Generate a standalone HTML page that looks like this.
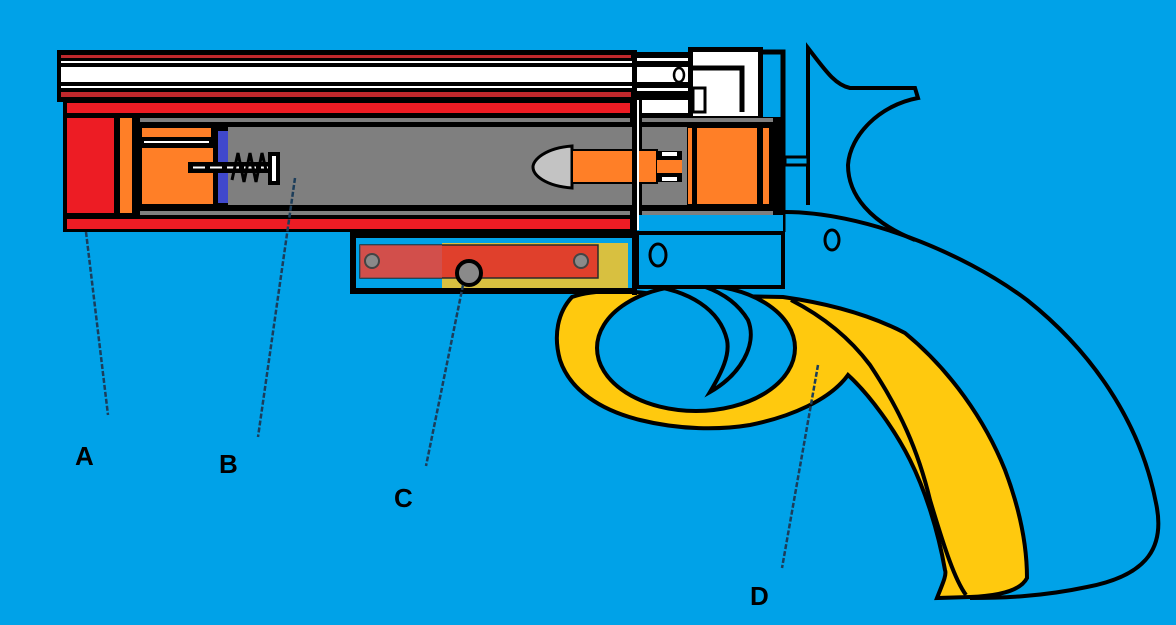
<!DOCTYPE html>
<html><head><meta charset="utf-8"><style>
html,body{margin:0;padding:0;background:#00a2e8;}
svg{display:block}
text{font-family:"Liberation Sans",sans-serif;font-weight:bold;font-size:26px;fill:#000}
</style></head><body>
<svg width="1176" height="625" viewBox="0 0 1176 625" xmlns="http://www.w3.org/2000/svg">
<rect width="1176" height="625" fill="#00a2e8"/>

<!-- grip outer line -->
<path d="M785,212 C860,212 960,250 1027,300 C1090,350 1140,420 1156,503 C1165,545 1150,575 1087,587 C1040,597 1000,598 970,598" fill="none" stroke="#000" stroke-width="4"/>
<!-- hammer -->
<path d="M808,205 L808,48 C825,70 835,85 850,88 L915,88 L918,98 C880,105 850,135 848,165 C848,195 870,222 915,240" fill="none" stroke="#000" stroke-width="4"/>
<rect x="785" y="157" width="23" height="8" fill="#00a2e8" stroke="#000" stroke-width="3"/>
<ellipse cx="832" cy="240" rx="7" ry="10" fill="none" stroke="#000" stroke-width="3"/>

<!-- yellow grip + guard -->
<path d="M572,297 C600,287 640,292 660,295 L783,297 C840,305 880,320 905,333 C950,370 985,420 1005,470 C1022,515 1027,550 1027,578 C1020,592 995,596 970,597 L937,598 C942,585 947,575 945,570 C938,530 925,490 910,460 C895,430 870,395 848,375 C830,400 790,417 750,425 C720,430 680,430 640,420 C600,410 570,390 560,360 C553,335 558,312 572,297 Z" fill="#ffc90e" stroke="#000" stroke-width="4"/>
<path d="M791,300 C830,320 855,345 870,365 C900,410 918,450 930,500 C945,550 955,580 966,595" fill="none" stroke="#000" stroke-width="4"/>
<ellipse cx="696" cy="348" rx="99" ry="63" fill="#00a2e8" stroke="#000" stroke-width="4"/>
<!-- trigger -->
<path d="M633,280 C690,275 730,290 748,320 C758,345 740,375 710,392 C722,372 730,355 727,340 C720,310 690,290 645,285 Z" fill="#00a2e8" stroke="#000" stroke-width="4"/>

<!-- lower right block -->
<rect x="637" y="232" width="146" height="55" fill="#00a2e8" stroke="#000" stroke-width="4"/>
<ellipse cx="658" cy="255" rx="8" ry="11" fill="none" stroke="#000" stroke-width="3"/>
<!-- right frame -->
<path d="M763,52 L783,52 L783,232" fill="none" stroke="#000" stroke-width="5"/>
<rect x="637" y="213" width="146" height="19" fill="#00a2e8"/>
<line x1="637" y1="233" x2="783" y2="233" stroke="#000" stroke-width="4"/>

<!-- top barrel -->
<rect x="57" y="50" width="580" height="52" fill="#000"/>
<rect x="61" y="55" width="570" height="3" fill="#c0282c"/>
<rect x="61" y="61" width="572" height="2" fill="#fff"/>
<rect x="61" y="67" width="572" height="15" fill="#fff"/>
<rect x="61" y="86" width="572" height="2" fill="#fff"/>
<rect x="61" y="92" width="570" height="5" fill="#c0282c"/>
<!-- top right white area -->
<rect x="637" y="52" width="52" height="65" fill="#000"/>
<rect x="637" y="58" width="52" height="3" fill="#fff"/>
<rect x="637" y="67" width="52" height="15" fill="#fff"/>
<rect x="637" y="88" width="52" height="3" fill="#fff"/>
<rect x="642" y="100" width="47" height="13" fill="#fff"/>
<ellipse cx="679" cy="75" rx="5" ry="7" fill="#fff" stroke="#000" stroke-width="2.5"/>
<rect x="688" y="47" width="75" height="73" fill="#000"/>
<rect x="693" y="52" width="65" height="64" fill="#fff"/>
<path d="M693,68 L742,68 L742,112" fill="none" stroke="#000" stroke-width="5"/>
<rect x="693" y="88" width="12" height="24" fill="#fff" stroke="#000" stroke-width="3"/>

<!-- main frame -->
<rect x="63" y="100" width="574" height="132" fill="#000"/>
<rect x="67" y="103" width="563" height="10" fill="#ed1c24"/>
<rect x="67" y="118" width="47" height="95" fill="#ed1c24"/>
<rect x="120" y="118" width="12" height="95" fill="#ff7f27"/>
<rect x="140" y="118" width="490" height="4" fill="#7f7f7f"/>
<rect x="228" y="127" width="402" height="78" fill="#7f7f7f"/>
<rect x="140" y="211" width="490" height="4" fill="#7f7f7f"/>
<rect x="67" y="219" width="563" height="10" fill="#ed1c24"/>
<rect x="142" y="128" width="69" height="9" fill="#ff7f27"/>
<rect x="144" y="141" width="65" height="2" fill="#fff"/>
<rect x="142" y="148" width="71" height="56" fill="#ff7f27"/>
<rect x="218" y="131" width="10" height="72" fill="#3f48cc"/>
<!-- rod & spring -->
<rect x="188" y="162" width="92" height="11" fill="#000"/>
<line x1="193" y1="167.5" x2="270" y2="167.5" stroke="#fff" stroke-width="2" stroke-dasharray="12,5"/>
<path d="M232,180 L238,153 L244,182 L250,153 L256,182 L262,153 L266,170" fill="none" stroke="#000" stroke-width="3"/>
<rect x="268" y="152" width="12" height="33" fill="#000"/>
<rect x="272" y="156" width="4" height="25" fill="#fff"/>

<!-- right part of barrel -->
<rect x="637" y="117" width="146" height="98" fill="#000"/>
<rect x="642" y="118" width="131" height="4" fill="#7f7f7f"/>
<rect x="642" y="127" width="45" height="78" fill="#7f7f7f"/>
<rect x="642" y="211" width="131" height="4" fill="#7f7f7f"/>
<rect x="630" y="127" width="7" height="78" fill="#7f7f7f"/>
<rect x="687" y="125" width="83" height="80" fill="#000"/>
<rect x="688" y="128" width="4" height="76" fill="#ff7f27"/>
<rect x="697" y="128" width="60" height="76" fill="#ff7f27"/>
<rect x="763" y="128" width="6" height="76" fill="#ff7f27"/>
<!-- bullet -->
<path d="M572,146 C545,148 533,160 533,167 C533,175 545,186 572,188 Z" fill="#c3c3c3" stroke="#000" stroke-width="3"/>
<rect x="572" y="150" width="85" height="33" fill="#ff7f27" stroke="#000" stroke-width="2"/>
<rect x="657" y="151" width="25" height="31" fill="#000"/>
<rect x="657" y="160" width="25" height="13" fill="#ff7f27"/>
<rect x="662" y="152" width="15" height="4" fill="#fff"/>
<rect x="662" y="177" width="15" height="4" fill="#fff"/>

<!-- vertical divider -->
<rect x="632" y="50" width="5" height="245" fill="#000"/>
<rect x="637" y="100" width="2" height="130" fill="#fff"/>

<!-- lower block C -->
<rect x="350" y="232" width="287" height="62" fill="#000"/>
<rect x="356" y="238" width="276" height="50" fill="#00a2e8"/>
<rect x="442" y="243" width="186" height="45" fill="#d8c040"/>
<rect x="360" y="245" width="238" height="33" fill="#e0402c" stroke="#2a2a2a" stroke-width="1.5"/>
<rect x="360" y="245" width="82" height="33" fill="#c85a60" opacity="0.6"/>
<circle cx="372" cy="261" r="7" fill="#8a8a8a" stroke="#444" stroke-width="2"/>
<circle cx="581" cy="261" r="7" fill="#8a8a8a" stroke="#444" stroke-width="2"/>
<circle cx="469" cy="273" r="12" fill="#8a8a8a" stroke="#000" stroke-width="4"/>

<!-- leader lines -->
<g stroke="#1c3d5a" stroke-width="2.5" stroke-dasharray="5,2">
<line x1="86" y1="232" x2="108" y2="415"/>
<line x1="295" y1="178" x2="258" y2="437"/>
<line x1="463" y1="285" x2="426" y2="466"/>
<line x1="818" y1="365" x2="782" y2="568"/>
</g>
<text x="75" y="465">A</text>
<text x="219" y="473">B</text>
<text x="394" y="507">C</text>
<text x="750" y="605">D</text>
</svg>
</body></html>
